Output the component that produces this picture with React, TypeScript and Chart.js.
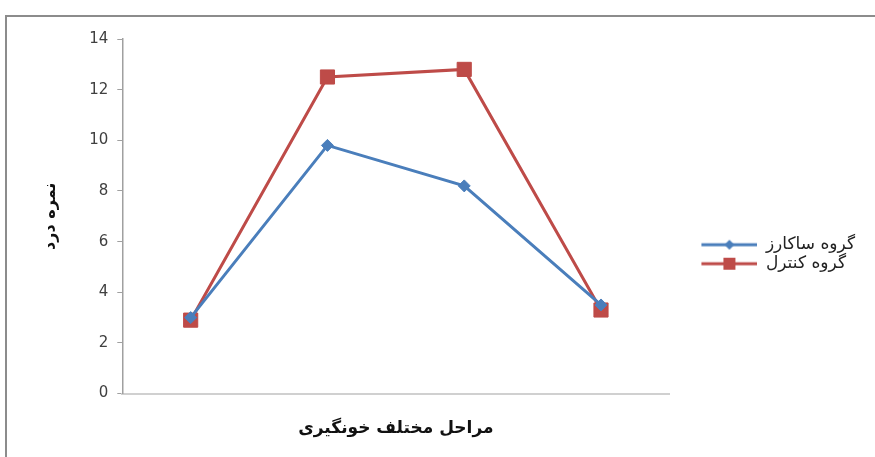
import React, { useEffect, useRef } from "react";
import { Chart, registerables } from "chart.js";

Chart.register(...registerables);

const categories = ["1", "2", "3", "4"];
const sucroseValues = [3.0, 9.8, 8.2, 3.5];
const controlValues = [2.9, 12.5, 12.8, 3.3];
const seriesNames = ["گروه ساکارز", "گروه کنترل"];
const xTitle = "مراحل مختلف خونگیری";
const yTitle = "نمره درد";
const yTicks = [0, 2, 4, 6, 8, 10, 12, 14];

const BLUE = "#4a7ebb";
const RED = "#be4b48";

function makeLegendIcon(color: string, marker: "diamond" | "square") {
  const c = document.createElement("canvas");
  const gap = 30;
  c.width = 56 + gap;
  c.height = 14;
  const ctx = c.getContext("2d")!;
  ctx.strokeStyle = color;
  ctx.lineWidth = 3;
  ctx.beginPath();
  ctx.moveTo(gap, 7);
  ctx.lineTo(gap + 56, 7);
  ctx.stroke();
  ctx.fillStyle = color;
  if (marker === "square") {
    ctx.fillRect(gap + 22, 1, 12, 12);
  } else {
    ctx.beginPath();
    ctx.moveTo(gap + 28, 2);
    ctx.lineTo(gap + 33, 7);
    ctx.lineTo(gap + 28, 12);
    ctx.lineTo(gap + 23, 7);
    ctx.closePath();
    ctx.fill();
  }
  return c;
}

export default function App() {
  const ref = useRef<HTMLCanvasElement>(null);
  useEffect(() => {
    document.body.style.margin = "0";
    const icons = [makeLegendIcon(BLUE, "diamond"), makeLegendIcon(RED, "square")];
    const chart = new Chart(ref.current!, {
      type: "line",
      data: {
        labels: categories,
        datasets: [
          {
            label: seriesNames[0],
            data: sucroseValues,
            borderColor: BLUE,
            backgroundColor: BLUE,
            borderWidth: 3,
            pointStyle: "rectRot",
            pointRadius: 6,
            pointBorderWidth: 1,
            tension: 0,
          },
          {
            label: seriesNames[1],
            data: controlValues,
            borderColor: RED,
            backgroundColor: RED,
            borderWidth: 3,
            pointStyle: "rect",
            pointRadius: 10,
            pointBorderWidth: 1,
            tension: 0,
          },
        ],
      },
      options: {
        animation: false,
        responsive: false,
        maintainAspectRatio: false,
        layout: { padding: { left: 30, top: 22, right: 10, bottom: 14 } },
        plugins: {
          tooltip: { enabled: false },
          legend: {
            position: "right",
            title: {
              display: true,
              text: " ",
              font: { size: 2 },
              padding: { top: 0, bottom: 24 },
            },
            labels: {
              usePointStyle: true,
              pointStyleWidth: 86,
              padding: 2,
              color: "#222",
              font: { family: "DejaVu Sans", size: 17 },
              generateLabels: (chart: any) =>
                chart.data.datasets.map((ds: any, i: number) => ({
                  text: ds.label,
                  pointStyle: icons[i],
                  fillStyle: ds.borderColor,
                  strokeStyle: ds.borderColor,
                  lineWidth: 0,
                  hidden: false,
                  datasetIndex: i,
                  fontColor: "#222",
                })),
            },
          },
        },
        scales: {
          x: {
            offset: true,
            grid: { display: false, drawTicks: false },
            border: { color: "#d0d0d0", width: 2 },
            ticks: { display: false },
            title: {
              display: true,
              text: xTitle,
              color: "#111",
              font: { family: "DejaVu Sans", size: 17, weight: "bold" },
              padding: { top: 25 },
            },
          },
          y: {
            min: 0,
            max: 14,
            afterBuildTicks: (axis: any) => {
              axis.ticks = yTicks.map((v) => ({ value: v }));
            },
            grid: { display: true, drawOnChartArea: false, tickLength: 5, color: "#a0a0a0" },
            border: { color: "#a0a0a0", width: 1.5 },
            ticks: {
              color: "#404040",
              font: { family: "DejaVu Sans", size: 15 },
              padding: 9,
            },
            title: {
              display: true,
              text: yTitle,
              color: "#111",
              font: { family: "DejaVu Sans", size: 16, weight: "bold" },
              padding: { bottom: 20 },
            },
          },
        },
      },
    });
    return () => chart.destroy();
  }, []);

  return (
    <div style={{ position: "relative", width: 875, height: 457, overflow: "hidden", background: "#fff" }}>
      <div
        style={{
          position: "absolute",
          left: 5,
          top: 15,
          width: 880,
          height: 460,
          border: "2px solid #8c8c8c",
          boxSizing: "border-box",
        }}
      >
        <canvas ref={ref} width={868} height={440} style={{ display: "block" }} />
      </div>
    </div>
  );
}
